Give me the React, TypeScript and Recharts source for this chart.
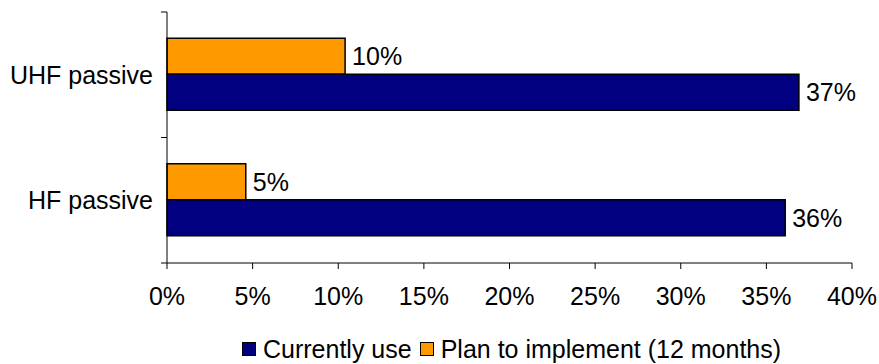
import React from "react";
import {
  BarChart,
  Bar,
  XAxis,
  YAxis,
  Legend,
  LabelList,
} from "recharts";

const categories = ["UHF passive", "HF passive"];
const currentlyUse = [36.9, 36.1];
const planToImplement = [10.4, 4.6];
const xTicks = [0, 5, 10, 15, 20, 25, 30, 35, 40];

const NAVY = "#000080";
const ORANGE = "#FF9900";
const FONT = "'Liberation Sans', Arial, Helvetica, sans-serif";
const FS = 25;

const data = categories.map((name, i) => ({
  name,
  current: currentlyUse[i],
  plan: planToImplement[i],
}));

function CategoryTick(props: any) {
  const { x, y, payload } = props;
  const half = payload?.offset ?? 0;
  return (
    <g>
      <text
        x={x}
        y={y}
        dy="0.355em"
        textAnchor="end"
        fontSize={FS}
        fontFamily={FONT}
        fill="#000"
      >
        {payload.value}
      </text>
      <line x1={x + 8} x2={x + 14} y1={y - half} y2={y - half} stroke="#000" />
      <line x1={x + 8} x2={x + 14} y1={y + half} y2={y + half} stroke="#000" />
    </g>
  );
}

function LegendBox() {
  const item = (color: string, label: string) => (
    <div style={{ display: "flex", alignItems: "center" }}>
      <span
        style={{
          width: 12,
          height: 12,
          background: color,
          border: "1px solid #000",
          marginRight: 7,
        }}
      />
      <span style={{ marginRight: 8 }}>{label}</span>
    </div>
  );
  return (
    <div
      style={{
        display: "flex",
        alignItems: "center",
        height: 30,
        paddingLeft: 242,
        fontFamily: FONT,
        fontSize: FS,
        color: "#000",
        whiteSpace: "nowrap",
      }}
    >
      {item(NAVY, "Currently use")}
      {item(ORANGE, "Plan to implement (12 months)")}
    </div>
  );
}

export default function App() {
  return (
    <div style={{ position: "absolute", left: 0, top: 0, background: "#fff" }}>
      <BarChart
        width={879}
        height={364}
        data={data}
        layout="vertical"
        margin={{ top: 12, right: 27, bottom: 0, left: 0 }}
        barCategoryGap="21%"
        barGap={0}
      >
        <XAxis
          type="number"
          domain={[0, 40]}
          ticks={xTicks}
          tickFormatter={(v) => `${v}%`}
          axisLine={{ stroke: "#000" }}
          tickLine={{ stroke: "#000" }}
          tickSize={6}
          tickMargin={18}
          height={71}
          tick={{ fontSize: FS, fill: "#000", fontFamily: FONT }}
        />
        <YAxis
          type="category"
          dataKey="name"
          width={167}
          axisLine={{ stroke: "#000" }}
          tickLine={false}
          tickSize={0}
          tickMargin={14}
          tick={<CategoryTick />}
        />
        <Legend
          verticalAlign="bottom"
          content={() => <LegendBox />}
          wrapperStyle={{ left: 0, width: 879 }}
        />
        <Bar
          dataKey="plan"
          name="Plan to implement (12 months)"
          fill={ORANGE}
          stroke="#000"
          strokeWidth={1.5}
          isAnimationActive={false}
        >
          <LabelList
            dataKey="plan"
            position="right"
            offset={7}
            formatter={(v: any) => `${Math.round(Number(v))}%`}
            style={{ fontSize: FS, fill: "#000", fontFamily: FONT }}
          />
        </Bar>
        <Bar
          dataKey="current"
          name="Currently use"
          fill={NAVY}
          stroke="#000"
          strokeWidth={1.5}
          isAnimationActive={false}
        >
          <LabelList
            dataKey="current"
            position="right"
            offset={7}
            formatter={(v: any) => `${Math.round(Number(v))}%`}
            style={{ fontSize: FS, fill: "#000", fontFamily: FONT }}
          />
        </Bar>
      </BarChart>
    </div>
  );
}
